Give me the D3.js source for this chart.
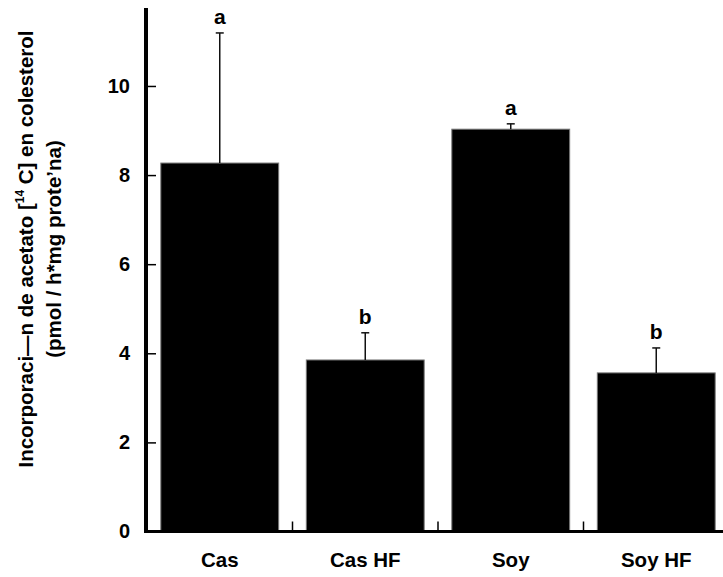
<!DOCTYPE html>
<html>
<head>
<meta charset="utf-8">
<script src="https://cdn.jsdelivr.net/npm/d3@7"></script>
<style>
  body { margin: 0; background: #fff; }
  svg text { font-family: "Liberation Sans", Arial, sans-serif; font-weight: bold; }
</style>
</head>
<body>
<svg id="chart" width="723" height="577"></svg>
<script>
const categories = ['Cas', 'Cas HF', 'Soy', 'Soy HF'];
const means = [8.27, 3.85, 9.03, 3.56];
const errors = [2.92, 0.61, 0.12, 0.56];
const letters = ['a', 'b', 'a', 'b'];
const yTicks = [0, 2, 4, 6, 8, 10];

const svg = d3.select('#chart');
const x0 = 146, yBase = 531.5, yTop = 8;

const x = d3.scaleBand()
  .domain(categories)
  .range([147, 729])
  .paddingInner(0.19)
  .paddingOuter(0.095);

const y = d3.scaleLinear()
  .domain([0, 11.75])
  .range([yBase, yTop]);

// bars
svg.append('g')
  .selectAll('rect')
  .data(categories)
  .enter()
  .append('rect')
  .attr('x', d => x(d))
  .attr('y', (d, i) => y(means[i]))
  .attr('width', x.bandwidth())
  .attr('height', (d, i) => yBase - y(means[i]))
  .attr('fill', '#000')
  .attr('stroke', '#777')
  .attr('stroke-width', 1);

// error bars (upper only)
const err = svg.append('g').attr('stroke', '#111').attr('stroke-width', 1.5);
categories.forEach((c, i) => {
  const cx = x(c) + x.bandwidth() / 2;
  const top = y(means[i] + errors[i]);
  err.append('line')
    .attr('x1', cx).attr('x2', cx)
    .attr('y1', y(means[i])).attr('y2', top);
  err.append('line')
    .attr('x1', cx - 4).attr('x2', cx + 4)
    .attr('y1', top).attr('y2', top);
  svg.append('text')
    .attr('x', cx)
    .attr('y', top - 9)
    .attr('text-anchor', 'middle')
    .style('font-size', '21px')
    .text(letters[i]);
});

// y axis
const yAxis = svg.append('g')
  .attr('transform', `translate(${x0},0)`)
  .call(d3.axisLeft(y).tickValues(yTicks).tickSizeInner(-10).tickSizeOuter(0).tickPadding(16));
yAxis.select('.domain').remove();
yAxis.selectAll('.tick line').attr('stroke', '#000').attr('stroke-width', 1.5);
yAxis.selectAll('.tick text')
  .style('font-size', '20px')
  .style('font-family', '"Liberation Sans", Arial, sans-serif')
  .attr('fill', '#000');
svg.append('line')
  .attr('x1', x0).attr('x2', x0)
  .attr('y1', yTop).attr('y2', yBase + 1.5)
  .attr('stroke', '#000').attr('stroke-width', 4);

// x axis
const step = x.step();
svg.append('line')
  .attr('x1', x0 - 2).attr('x2', 729)
  .attr('y1', yBase).attr('y2', yBase)
  .attr('stroke', '#000').attr('stroke-width', 3);
svg.append('g')
  .selectAll('line')
  .data(categories.slice(1))
  .enter()
  .append('line')
  .attr('x1', d => x(d) - step * x.paddingInner() / 2)
  .attr('x2', d => x(d) - step * x.paddingInner() / 2)
  .attr('y1', yBase)
  .attr('y2', yBase - 10)
  .attr('stroke', '#000')
  .attr('stroke-width', 1.5);
svg.append('g')
  .selectAll('text')
  .data(categories)
  .enter()
  .append('text')
  .attr('x', d => x(d) + x.bandwidth() / 2)
  .attr('y', 567)
  .attr('text-anchor', 'middle')
  .style('font-size', '20.5px')
  .text(d => d);

// y title
const title = svg.append('text')
  .attr('transform', 'translate(33,249) rotate(-90)')
  .attr('text-anchor', 'middle')
  .style('font-size', '20.5px');
const l1 = title.append('tspan').attr('x', 0).attr('y', 0);
l1.append('tspan').text('Incorporaci—n de acetato [');
l1.append('tspan').attr('dy', -9).style('font-size', '12px').text('14');
l1.append('tspan').attr('dy', 9).text(' C] en colesterol');
title.append('tspan').attr('x', 0).attr('y', 28).text('(pmol / h*mg prote’na)');
</script>
</body>
</html>
